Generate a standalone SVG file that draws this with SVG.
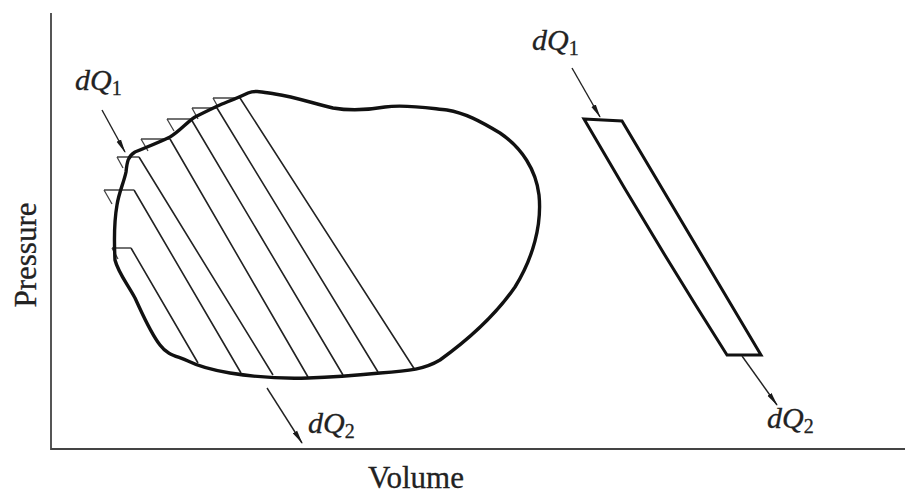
<svg xmlns="http://www.w3.org/2000/svg" width="908" height="494" viewBox="0 0 908 494">
<defs>
<marker id="ah" viewBox="0 0 14 6" refX="13" refY="3" markerWidth="14" markerHeight="6" markerUnits="userSpaceOnUse" orient="auto">
<path d="M0,0.5 L14,3 L0,5.5 Z" fill="#1a1a1a"/>
</marker>
<style>
.axis{fill:none;stroke:#444;stroke-width:1.8}
.loop{fill:none;stroke:#111;stroke-width:3.4;stroke-linejoin:round}
.hatch{fill:none;stroke:#222;stroke-width:1.6}
.tri{fill:none;stroke:#444;stroke-width:1.3}
.strip{fill:none;stroke:#111;stroke-width:3;stroke-linejoin:miter}
.arr{fill:none;stroke:#222;stroke-width:1.4;marker-end:url(#ah)}
.lbl{font-family:"Liberation Serif","Times New Roman",serif;font-size:31px;fill:#222;stroke:#222;stroke-width:0.3}
.dq{font-family:"Liberation Serif","Times New Roman",serif;font-size:30px;font-style:italic;fill:#222;stroke:#222;stroke-width:0.3}
.sub{font-size:20px;font-style:normal}
</style>
</defs>
<rect width="908" height="494" fill="#fff"/>
<g id="axes">
<path class="axis" d="M51,13 L51,449 L905,449"/>
<text class="lbl" transform="translate(36,255) rotate(-90)" text-anchor="middle">Pressure</text>
<text class="lbl" x="416" y="488" text-anchor="middle">Volume</text>
</g>
<g id="cycle">
<g id="hatching">
<path class="hatch" d="M131,248 L198,363 M134,190 L241,373 M139,157 L273,375 M170,139 L308,377 M191,119 L343,375 M217,108 L378,372 M240,98 L415,370"/>
<path class="tri" d="M112,248 L131,248 M112,248 L118,259 M104,190 L134,190 M104,190 L112,204 M117,157 L139,157 M117,157 L123,168 M141,139 L170,139 M141,139 L148,151 M167,119 L191,119 M167,119 L174,131 M192,108 L217,108 M192,108 L198,119 M213,98 L240,98 M213,98 L218,107"/>
</g>
<path id="loop" class="loop" d="M115,260 C114,240 114,222 117,205 C119,192 124,182 126,172 C127,162 128,156 135,152 C147,147 160,142 170,137 C180,131 187,122 195,117 C205,112 213,108 222,104 C232,100 240,97 248,93 C255,90 262,92 275,94 C295,97 312,103 333,108 C350,111 368,110 385,107 C405,104 428,108 447,110 C465,113 480,121 500,133 C522,148 536,170 539,195 C542,225 533,258 515,287 C497,313 472,337 440,360 C425,369 410,371 380,373 C360,375 340,377 308,378 C280,379 255,377 230,373 C212,370 200,367 188,361 C178,356 168,356 160,345 C150,332 143,315 135,298 C126,282 118,272 115,260 Z"/>
<path class="arr" d="M102,110 L125,152"/>
<text class="dq" x="75" y="90">dQ<tspan class="sub" dy="5">1</tspan></text>
<path class="arr" d="M267,388 L302,443"/>
<text class="dq" x="308" y="433">dQ<tspan class="sub" dy="5">2</tspan></text>
</g>
<g id="strip">
<path class="strip" d="M584,119 L622,121 Q690,235 761,355 L727,355 Q654,240 584,119 Z"/>
<path class="arr" d="M572,68 L600,117"/>
<text class="dq" x="532" y="50">dQ<tspan class="sub" dy="5">1</tspan></text>
<path class="arr" d="M742,356 L777,405"/>
<text class="dq" x="767" y="428">dQ<tspan class="sub" dy="5">2</tspan></text>
</g>
</svg>
